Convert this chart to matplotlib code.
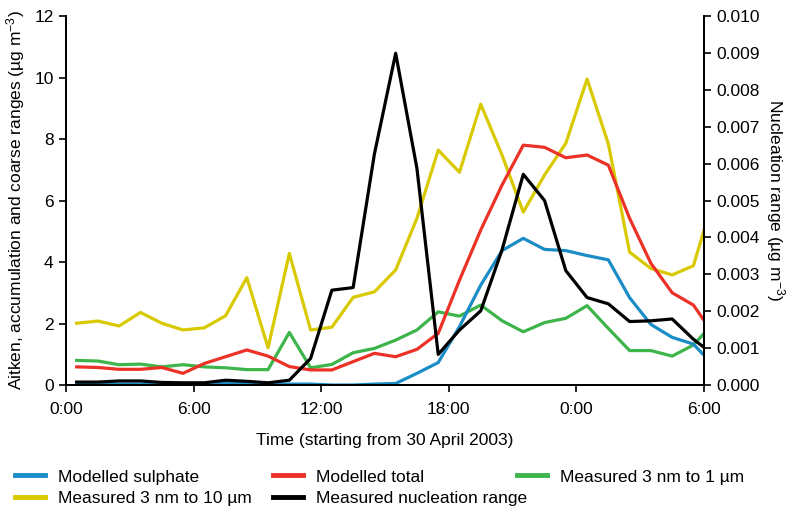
import matplotlib
matplotlib.use('Agg')
import matplotlib.pyplot as plt
from matplotlib.lines import Line2D

plt.rcParams['font.family'] = ['Liberation Sans', 'DejaVu Sans']
plt.rcParams['mathtext.default'] = 'regular'

# hours since 0:00 on 30 April 2003 (half-hour centred samples)
hours = [0.5, 1.5, 2.5, 3.5, 4.5, 5.5, 6.5, 7.5, 8.5, 9.5, 10.5, 11.5, 12.5, 13.5, 14.5,
         15.5, 16.5, 17.5, 18.5, 19.5, 20.5, 21.5, 22.5, 23.5, 24.5, 25.5, 26.5, 27.5,
         28.5, 29.5, 30.5]

modelled_sulphate = [0.05, 0.03, 0.03, 0.03, 0.03, 0.02, 0.02, 0.08, 0.05, 0.03, 0.03,
                     0.03, 0.0, 0.0, 0.03, 0.05, 0.38, 0.73, 1.90, 3.25, 4.37, 4.77, 4.41,
                     4.37, 4.21, 4.07, 2.84, 1.97, 1.55, 1.33, 0.60]
modelled_total = [0.59, 0.57, 0.51, 0.51, 0.57, 0.38, 0.70, 0.92, 1.14, 0.94, 0.60, 0.49,
                  0.49, 0.76, 1.03, 0.92, 1.16, 1.68, 3.41, 5.04, 6.50, 7.80, 7.73, 7.39,
                  7.48, 7.15, 5.42, 3.96, 3.00, 2.60, 1.60]
measured_1um = [0.80, 0.78, 0.66, 0.68, 0.59, 0.66, 0.59, 0.56, 0.50, 0.50, 1.71, 0.56,
                0.67, 1.05, 1.19, 1.46, 1.79, 2.38, 2.24, 2.60, 2.09, 1.73, 2.03, 2.17,
                2.58, 1.84, 1.12, 1.12, 0.94, 1.30, 2.06]
measured_10um = [2.01, 2.08, 1.92, 2.36, 2.01, 1.79, 1.86, 2.25, 3.49, 1.21, 4.28, 1.79,
                 1.88, 2.85, 3.03, 3.74, 5.42, 7.64, 6.92, 9.13, 7.48, 5.62, 6.83, 7.86,
                 9.95, 7.84, 4.32, 3.79, 3.58, 3.88, 6.20]
nucleation = [0.00008, 0.00008, 0.00011, 0.00011, 0.00007, 0.00006, 0.00006, 0.00013,
              0.00010, 0.00006, 0.00013, 0.00072, 0.00257, 0.00264, 0.00626, 0.00899,
              0.00587, 0.00083, 0.00149, 0.00201, 0.00366, 0.00571, 0.00500, 0.00310,
              0.00237, 0.00220, 0.00172, 0.00174, 0.00179, 0.00124, 0.00080]

xticks = [0, 6, 12, 18, 24, 30]
xtick_labels = ['0:00', '6:00', '12:00', '18:00', '0:00', '6:00']

c_blue = '#1b8dc6'
c_red = '#ec3127'
c_green = '#3db54a'
c_yellow = '#d8c900'
c_black = '#000000'
lw = 2.3
fs = 12.5

fig = plt.figure(figsize=(7.87, 5.08), dpi=100)
ax = fig.add_axes([0.0839, 0.2421, 0.8107, 0.7264])
ax2 = ax.twinx()

ax.plot(hours, measured_10um, color=c_yellow, lw=lw)
ax.plot(hours, measured_1um, color=c_green, lw=lw)
ax.plot(hours, modelled_total, color=c_red, lw=lw)
ax.plot(hours, modelled_sulphate, color=c_blue, lw=lw)
ax2.plot(hours, nucleation, color=c_black, lw=lw)

ax.set_xlim(0, 30)
ax.set_ylim(0, 12)
ax2.set_ylim(0, 0.010)
ax.set_xticks(xticks)
ax.set_xticklabels(xtick_labels)
ax.set_yticks([0, 2, 4, 6, 8, 10, 12])
ax2.set_yticks([0.000, 0.001, 0.002, 0.003, 0.004, 0.005, 0.006, 0.007, 0.008, 0.009, 0.010])
ax2.set_yticklabels(['%.3f' % v for v in ax2.get_yticks()])

for a in (ax, ax2):
    a.spines['top'].set_visible(False)
    a.tick_params(labelsize=fs, width=1.2, length=5, direction='out', pad=4)
    for s in a.spines.values():
        s.set_linewidth(1.3)
ax.tick_params(axis='x', pad=7)

ax.set_xlabel('Time (starting from 30 April 2003)', fontsize=fs, labelpad=12)
ax.set_ylabel(r'Aitken, accumulation and coarse ranges (µg m$^{-3}$)', fontsize=fs, labelpad=5)
ax2.set_ylabel(r'Nucleation range (µg m$^{-3}$)', fontsize=fs, rotation=270, labelpad=19)


def column_legend(items, x):
    hs = [Line2D([], [], color=c, lw=3.5) for c, _ in items]
    ls = [t for _, t in items]
    fig.legend(hs, ls, loc='upper left', bbox_to_anchor=(x, 0.076), frameon=False,
               fontsize=fs, handlelength=1.75, handletextpad=0.7, labelspacing=0.36,
               borderpad=0, borderaxespad=0)


column_legend([(c_blue, 'Modelled sulphate'), (c_yellow, 'Measured 3 nm to 10 µm')], 15 / 787)
column_legend([(c_red, 'Modelled total'), (c_black, 'Measured nucleation range')], 273 / 787)
column_legend([(c_green, 'Measured 3 nm to 1 µm')], 517 / 787)

fig.savefig('out.png', dpi=100)
